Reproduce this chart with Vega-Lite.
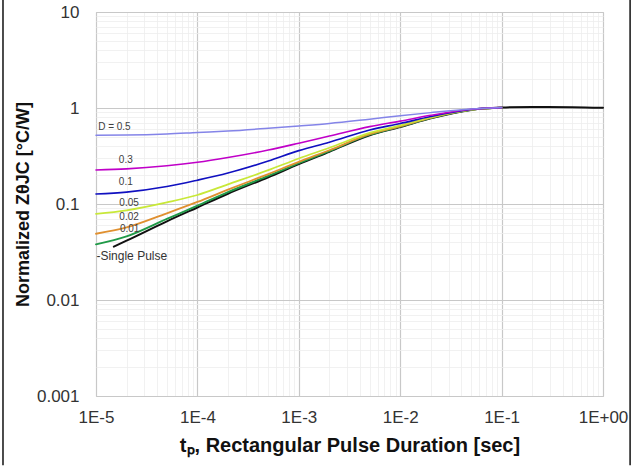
{
  "$schema": "https://vega.github.io/schema/vega-lite/v6.json",
  "autosize": {"type": "none"},
  "width": 507,
  "height": 384,
  "padding": {"left": 96, "top": 12, "right": 37, "bottom": 70},
  "background": "white",
  "config": {
    "font": "Liberation Sans",
    "view": {"stroke": "#c8c8c8"}
  },
  "datasets": {
    "curves": [
      {"t": 0.000015, "z": 0.036, "s": "Single Pulse"},
      {"t": 0.00002, "z": 0.0415, "s": "Single Pulse"},
      {"t": 0.00005, "z": 0.066, "s": "Single Pulse"},
      {"t": 0.0001, "z": 0.092, "s": "Single Pulse"},
      {"t": 0.0002, "z": 0.128, "s": "Single Pulse"},
      {"t": 0.0005, "z": 0.19, "s": "Single Pulse"},
      {"t": 0.001, "z": 0.26, "s": "Single Pulse"},
      {"t": 0.002, "z": 0.35, "s": "Single Pulse"},
      {"t": 0.005, "z": 0.52, "s": "Single Pulse"},
      {"t": 0.01, "z": 0.635, "s": "Single Pulse"},
      {"t": 0.02, "z": 0.78, "s": "Single Pulse"},
      {"t": 0.05, "z": 0.955, "s": "Single Pulse"},
      {"t": 0.1, "z": 1.01, "s": "Single Pulse"},
      {"t": 0.2, "z": 1.025, "s": "Single Pulse"},
      {"t": 0.5, "z": 1.02, "s": "Single Pulse"},
      {"t": 1, "z": 1.005, "s": "Single Pulse"},

      {"t": 0.00001, "z": 0.038, "s": "0.01"},
      {"t": 0.00002, "z": 0.046, "s": "0.01"},
      {"t": 0.00005, "z": 0.07, "s": "0.01"},
      {"t": 0.0001, "z": 0.096, "s": "0.01"},
      {"t": 0.0002, "z": 0.133, "s": "0.01"},
      {"t": 0.0005, "z": 0.196, "s": "0.01"},
      {"t": 0.001, "z": 0.266, "s": "0.01"},
      {"t": 0.002, "z": 0.356, "s": "0.01"},
      {"t": 0.005, "z": 0.527, "s": "0.01"},
      {"t": 0.01, "z": 0.64, "s": "0.01"},
      {"t": 0.02, "z": 0.785, "s": "0.01"},
      {"t": 0.05, "z": 0.957, "s": "0.01"},
      {"t": 0.1, "z": 1.01, "s": "0.01"},

      {"t": 0.00001, "z": 0.049, "s": "0.02"},
      {"t": 0.00002, "z": 0.057, "s": "0.02"},
      {"t": 0.00005, "z": 0.08, "s": "0.02"},
      {"t": 0.0001, "z": 0.105, "s": "0.02"},
      {"t": 0.0002, "z": 0.141, "s": "0.02"},
      {"t": 0.0005, "z": 0.205, "s": "0.02"},
      {"t": 0.001, "z": 0.275, "s": "0.02"},
      {"t": 0.002, "z": 0.363, "s": "0.02"},
      {"t": 0.005, "z": 0.533, "s": "0.02"},
      {"t": 0.01, "z": 0.645, "s": "0.02"},
      {"t": 0.02, "z": 0.79, "s": "0.02"},
      {"t": 0.05, "z": 0.96, "s": "0.02"},
      {"t": 0.1, "z": 1.01, "s": "0.02"},

      {"t": 0.00001, "z": 0.079, "s": "0.05"},
      {"t": 0.00002, "z": 0.086, "s": "0.05"},
      {"t": 0.00005, "z": 0.104, "s": "0.05"},
      {"t": 0.0001, "z": 0.124, "s": "0.05"},
      {"t": 0.0002, "z": 0.16, "s": "0.05"},
      {"t": 0.0005, "z": 0.225, "s": "0.05"},
      {"t": 0.001, "z": 0.298, "s": "0.05"},
      {"t": 0.002, "z": 0.385, "s": "0.05"},
      {"t": 0.005, "z": 0.55, "s": "0.05"},
      {"t": 0.01, "z": 0.66, "s": "0.05"},
      {"t": 0.02, "z": 0.8, "s": "0.05"},
      {"t": 0.05, "z": 0.962, "s": "0.05"},
      {"t": 0.1, "z": 1.01, "s": "0.05"},

      {"t": 0.00001, "z": 0.127, "s": "0.1"},
      {"t": 0.00002, "z": 0.133, "s": "0.1"},
      {"t": 0.00005, "z": 0.152, "s": "0.1"},
      {"t": 0.0001, "z": 0.177, "s": "0.1"},
      {"t": 0.0002, "z": 0.21, "s": "0.1"},
      {"t": 0.0005, "z": 0.28, "s": "0.1"},
      {"t": 0.001, "z": 0.36, "s": "0.1"},
      {"t": 0.002, "z": 0.44, "s": "0.1"},
      {"t": 0.005, "z": 0.59, "s": "0.1"},
      {"t": 0.01, "z": 0.69, "s": "0.1"},
      {"t": 0.02, "z": 0.815, "s": "0.1"},
      {"t": 0.05, "z": 0.965, "s": "0.1"},
      {"t": 0.1, "z": 1.01, "s": "0.1"},

      {"t": 0.00001, "z": 0.226, "s": "0.3"},
      {"t": 0.00002, "z": 0.232, "s": "0.3"},
      {"t": 0.00005, "z": 0.25, "s": "0.3"},
      {"t": 0.0001, "z": 0.272, "s": "0.3"},
      {"t": 0.0002, "z": 0.305, "s": "0.3"},
      {"t": 0.0005, "z": 0.365, "s": "0.3"},
      {"t": 0.001, "z": 0.43, "s": "0.3"},
      {"t": 0.002, "z": 0.51, "s": "0.3"},
      {"t": 0.005, "z": 0.64, "s": "0.3"},
      {"t": 0.01, "z": 0.73, "s": "0.3"},
      {"t": 0.02, "z": 0.84, "s": "0.3"},
      {"t": 0.05, "z": 0.97, "s": "0.3"},
      {"t": 0.1, "z": 1.01, "s": "0.3"},

      {"t": 0.00001, "z": 0.52, "s": "0.5"},
      {"t": 0.00002, "z": 0.522, "s": "0.5"},
      {"t": 0.00005, "z": 0.535, "s": "0.5"},
      {"t": 0.0001, "z": 0.555, "s": "0.5"},
      {"t": 0.0002, "z": 0.575, "s": "0.5"},
      {"t": 0.0005, "z": 0.615, "s": "0.5"},
      {"t": 0.001, "z": 0.65, "s": "0.5"},
      {"t": 0.002, "z": 0.69, "s": "0.5"},
      {"t": 0.005, "z": 0.765, "s": "0.5"},
      {"t": 0.01, "z": 0.83, "s": "0.5"},
      {"t": 0.02, "z": 0.895, "s": "0.5"},
      {"t": 0.05, "z": 0.975, "s": "0.5"},
      {"t": 0.1, "z": 1.01, "s": "0.5"}
    ],
    "labels": [
      {"t": 0.0000105, "z": 0.634, "label": "D = 0.5", "kind": "small"},
      {"t": 0.0000168, "z": 0.287, "label": "0.3", "kind": "small"},
      {"t": 0.0000168, "z": 0.171, "label": "0.1", "kind": "small"},
      {"t": 0.000017, "z": 0.103, "label": "0.05", "kind": "small"},
      {"t": 0.000017, "z": 0.0738, "label": "0.02", "kind": "small"},
      {"t": 0.0000172, "z": 0.0545, "label": "0.01", "kind": "small"},
      {"t": 0.0000101, "z": 0.0287, "label": "-Single Pulse", "kind": "big"}
    ],
    "frame": [
      {"t": 0.00000121, "z": 0.00019, "z2": 14},
      {"t": 1.85, "z": 0.00019, "z2": 14}
    ]
  },
  "encoding": {
    "x": {
      "field": "t", "type": "quantitative",
      "scale": {"type": "log", "domain": [0.00001, 1], "nice": false},
      "axis": {
        "values": [0.00001,0.00002,0.00003,0.00004,0.00005,0.00006,0.00007,0.00008,0.00009,
                   0.0001,0.0002,0.0003,0.0004,0.0005,0.0006,0.0007,0.0008,0.0009,
                   0.001,0.002,0.003,0.004,0.005,0.006,0.007,0.008,0.009,
                   0.01,0.02,0.03,0.04,0.05,0.06,0.07,0.08,0.09,
                   0.1,0.2,0.3,0.4,0.5,0.6,0.7,0.8,0.9,1],
        "labelExpr": "abs(log(datum.value)/LN10 - round(log(datum.value)/LN10)) < 0.001 ? (round(log(datum.value)/LN10) < 0 ? '1E' + round(log(datum.value)/LN10) : '1E+00') : ''",
        "labelOverlap": false,
        "labelBound": false,
        "labelFlush": false,
        "labelFontSize": 17,
        "labelColor": "#333333",
        "labelPadding": 13,
        "ticks": false,
        "domain": false,
        "grid": true,
        "gridColor": {"condition": {"test": "abs(log(datum.value)/LN10 - round(log(datum.value)/LN10)) < 0.001", "value": "#c8c8c8"}, "value": "#eeeeee"},
        "gridWidth": {"condition": {"test": "abs(log(datum.value)/LN10 - round(log(datum.value)/LN10)) < 0.001", "value": 1.2}, "value": 0.8},
        "title": "tₚ, Rectangular Pulse Duration [sec]",
        "titleFontSize": 20,
        "titleFontWeight": "bold",
        "titleColor": "#111111",
        "titlePadding": 10
      }
    },
    "y": {
      "field": "z", "type": "quantitative",
      "scale": {"type": "log", "domain": [0.001, 10], "nice": false},
      "axis": {
        "values": [0.001,0.002,0.003,0.004,0.005,0.006,0.007,0.008,0.009,
                   0.01,0.02,0.03,0.04,0.05,0.06,0.07,0.08,0.09,
                   0.1,0.2,0.3,0.4,0.5,0.6,0.7,0.8,0.9,
                   1,2,3,4,5,6,7,8,9,10],
        "labelExpr": "abs(log(datum.value)/LN10 - round(log(datum.value)/LN10)) < 0.001 ? format(datum.value, '~g') : ''",
        "labelOverlap": false,
        "labelBound": false,
        "labelFlush": false,
        "labelFontSize": 17,
        "labelColor": "#333333",
        "labelPadding": 17,
        "ticks": false,
        "domain": false,
        "grid": true,
        "gridColor": {"condition": {"test": "abs(log(datum.value)/LN10 - round(log(datum.value)/LN10)) < 0.001", "value": "#c8c8c8"}, "value": "#eeeeee"},
        "gridWidth": {"condition": {"test": "abs(log(datum.value)/LN10 - round(log(datum.value)/LN10)) < 0.001", "value": 1.2}, "value": 0.8},
        "title": "Normalized ZθJC [°C/W]",
        "titleFontSize": 18,
        "titleFontWeight": "bold",
        "titleColor": "#111111",
        "titlePadding": 4
      }
    }
  },
  "layer": [
    {
      "data": {"name": "curves"},
      "mark": {"type": "line", "interpolate": "monotone", "strokeCap": "round"},
      "encoding": {
        "color": {
          "field": "s", "type": "nominal", "legend": null,
          "scale": {
            "domain": ["0.5", "0.3", "0.1", "0.05", "0.02", "0.01", "Single Pulse"],
            "range": ["#8484e8", "#c000c8", "#1010c0", "#c8e838", "#e09030", "#209a48", "#111111"]
          }
        },
        "strokeWidth": {
          "field": "s", "type": "nominal", "legend": null,
          "scale": {
            "domain": ["0.5", "0.3", "0.1", "0.05", "0.02", "0.01", "Single Pulse"],
            "range": [1.5, 2, 2, 2, 2, 2, 2]
          }
        },
        "order": {"field": "s", "sort": "ascending"}
      }
    },
    {
      "data": {"name": "labels"},
      "transform": [{"filter": "datum.kind === 'small'"}],
      "mark": {"type": "text", "align": "left", "baseline": "middle", "fontSize": 10, "color": "#404040"},
      "encoding": {"text": {"field": "label"}}
    },
    {
      "data": {"name": "labels"},
      "transform": [{"filter": "datum.kind === 'big'"}],
      "mark": {"type": "text", "align": "left", "baseline": "middle", "fontSize": 12, "color": "#333333"},
      "encoding": {"text": {"field": "label"}}
    },
    {
      "data": {"name": "frame"},
      "mark": {"type": "rule", "color": "#111111", "strokeWidth": 1.5, "clip": false},
      "encoding": {"y2": {"field": "z2"}}
    }
  ]
}
